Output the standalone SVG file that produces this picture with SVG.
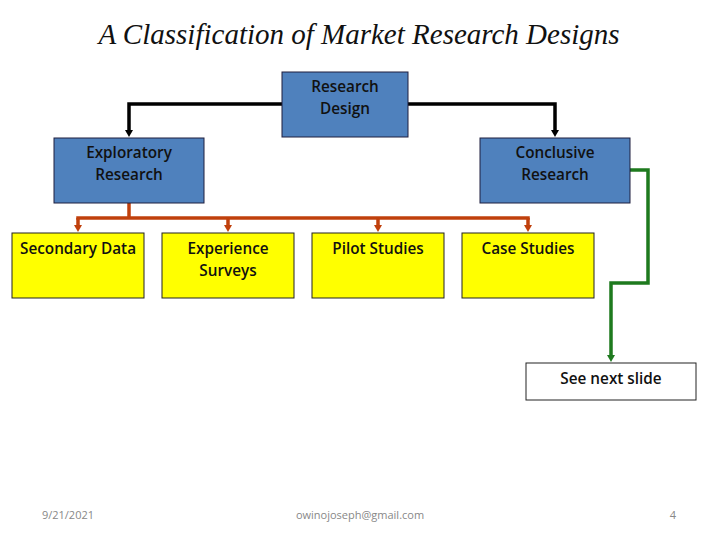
<svg xmlns="http://www.w3.org/2000/svg" width="720" height="540" viewBox="0 0 720 540">
<defs>
<style>
.blue{fill:#4f81bd;stroke:#1f1f3f;stroke-width:1}
.yel{fill:#ffff00;stroke:#222;stroke-width:1}
.wht{fill:#fff;stroke:#222;stroke-width:1}
.lbl{font-family:"Open Sans","Liberation Sans",sans-serif;font-size:15.3px;font-weight:600;fill:#111;text-anchor:middle}
.foot{font-family:"Open Sans","Liberation Sans",sans-serif;font-size:11px;fill:#888}
.blk{fill:none;stroke:#000;stroke-width:3.5}
.org{fill:none;stroke:#c0400c;stroke-width:3.5}
.grn{fill:none;stroke:#1e7a1e;stroke-width:3.5}
</style>
<marker id="ab" markerWidth="8" markerHeight="8" refX="1" refY="4" orient="auto" markerUnits="userSpaceOnUse"><path d="M0,0 L7,4 L0,8 z" fill="#000"/></marker>
<marker id="ao" markerWidth="8" markerHeight="8" refX="1" refY="4" orient="auto" markerUnits="userSpaceOnUse"><path d="M0,0 L7,4 L0,8 z" fill="#c0400c"/></marker>
<marker id="ag" markerWidth="8" markerHeight="8" refX="1" refY="4" orient="auto" markerUnits="userSpaceOnUse"><path d="M0,0 L7,4 L0,8 z" fill="#1e7a1e"/></marker>
</defs>
<rect width="720" height="540" fill="#fff"/>
<text x="359" y="44" font-family="Liberation Serif,serif" font-style="italic" font-size="29" text-anchor="middle" fill="#111">A Classification of Market Research Designs</text>
<g id="connectors">
<path class="blk" d="M282,104 H129 V131" marker-end="url(#ab)"/>
<path class="blk" d="M408,104 H555 V131" marker-end="url(#ab)"/>
<path class="org" d="M129,203 V218"/>
<path class="org" d="M76.25,218 H529.75"/>
<path class="org" d="M78,218 V226" marker-end="url(#ao)"/>
<path class="org" d="M228,218 V226" marker-end="url(#ao)"/>
<path class="org" d="M378,218 V226" marker-end="url(#ao)"/>
<path class="org" d="M528,218 V226" marker-end="url(#ao)"/>
<path class="grn" d="M630,170 H648 V283 H611 V356" marker-end="url(#ag)"/>
</g>
<g id="research-design"><rect class="blue" x="282" y="72" width="126" height="65"/><text class="lbl" x="345" y="92">Research</text><text class="lbl" x="345" y="114">Design</text></g>
<g id="exploratory"><rect class="blue" x="54" y="138" width="150" height="65"/><text class="lbl" x="129" y="158">Exploratory</text><text class="lbl" x="129" y="180">Research</text></g>
<g id="conclusive"><rect class="blue" x="480" y="138" width="150" height="65"/><text class="lbl" x="555" y="158">Conclusive</text><text class="lbl" x="555" y="180">Research</text></g>
<g id="secondary"><rect class="yel" x="12" y="233" width="132" height="65"/><text class="lbl" x="78" y="254">Secondary Data</text></g>
<g id="experience"><rect class="yel" x="162" y="233" width="132" height="65"/><text class="lbl" x="228" y="254">Experience</text><text class="lbl" x="228" y="276">Surveys</text></g>
<g id="pilot"><rect class="yel" x="312" y="233" width="132" height="65"/><text class="lbl" x="378" y="254">Pilot Studies</text></g>
<g id="case"><rect class="yel" x="462" y="233" width="132" height="65"/><text class="lbl" x="528" y="254">Case Studies</text></g>
<g id="next"><rect class="wht" x="526" y="363" width="170" height="37"/><text class="lbl" x="611" y="384">See next slide</text></g>
<text class="foot" x="68" y="519" text-anchor="middle">9/21/2021</text>
<text class="foot" x="360" y="519" text-anchor="middle">owinojoseph@gmail.com</text>
<text class="foot" x="673" y="519" text-anchor="middle">4</text>
</svg>
